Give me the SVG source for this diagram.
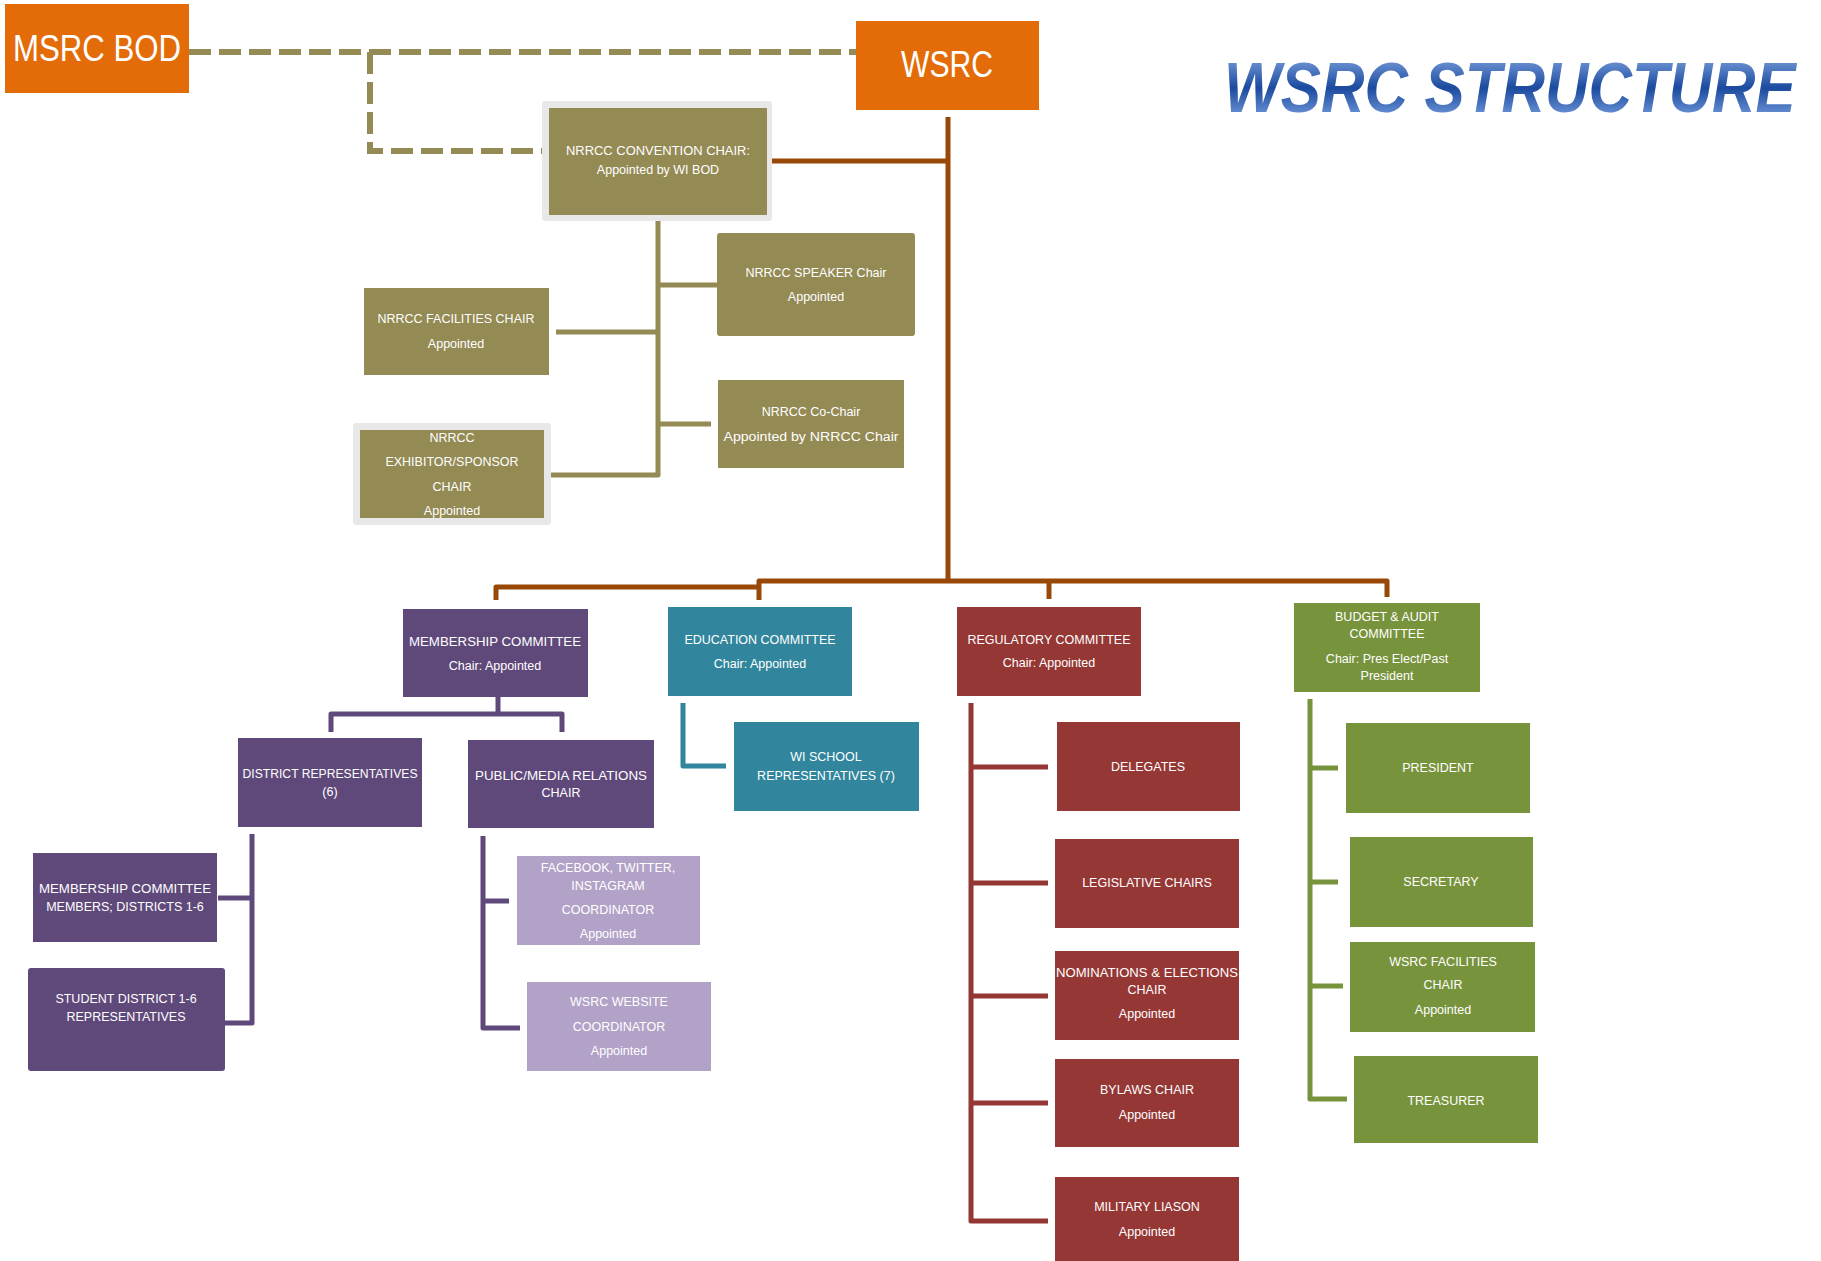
<svg xmlns="http://www.w3.org/2000/svg" width="1821" height="1261" viewBox="0 0 1821 1261">
<style>
.t{font-family:"Liberation Sans",Arial,sans-serif;font-size:12.5px;fill:#fff;text-anchor:middle}
.big{font-family:"Liberation Sans",Arial,sans-serif;fill:#fff;text-anchor:middle}
.or{fill:#E36C09}
.ol{fill:#948A54}
.pu{fill:#5F497A}
.lv{fill:#B2A2C7}
.te{fill:#31859C}
.re{fill:#953735}
.gr{fill:#77933C}
.frame{fill:#E8E8E8}
.c{fill:none;stroke-width:5;stroke-linejoin:round}
</style>
<defs>
<linearGradient id="tg" x1="0" y1="0" x2="0" y2="1">
<stop offset="0" stop-color="#8DB0E8"/>
<stop offset="0.5" stop-color="#1B4A9E"/>
<stop offset="1" stop-color="#8AB0EC"/>
</linearGradient>
</defs>
<rect width="1821" height="1261" fill="#fff"/>
<text transform="translate(1224,112) scale(0.86,1)" x="0" y="0" font-family="'Liberation Sans',Arial,sans-serif" font-weight="bold" font-style="italic" font-size="70" fill="url(#tg)">WSRC STRUCTURE</text>
<g id="connectors">
<path d="M189,52 H856 M370,52 V151 H549" fill="none" stroke="#948A54" stroke-width="6" stroke-dasharray="22 8"/>
<g stroke="#984807" class="c">
<path d="M948,117 V581"/>
<path d="M772,161 H948"/>
<path d="M496,600 V587 H759"/>
<path d="M759,600 V581 H1387 V597"/>
<path d="M1049,581 V599"/>
</g>
<g stroke="#948A54" class="c">
<path d="M658,221 V475 H551"/>
<path d="M658,285 H717"/>
<path d="M658,332 H556"/>
<path d="M658,424 H711"/>
</g>
<g stroke="#5F497A" class="c">
<path d="M498,697 V714"/>
<path d="M331,732 V714 H562 V732"/>
<path d="M252,834 V1023 H225"/>
<path d="M252,898 H218"/>
<path d="M483,836 V1028 H520"/>
<path d="M483,901 H509"/>
</g>
<path class="c" stroke="#31859C" d="M683,703 V766 H726"/>
<g stroke="#953735" class="c">
<path d="M971,703 V1221 H1048"/>
<path d="M971,767 H1048 M971,883 H1048 M971,996 H1048 M971,1103 H1048"/>
</g>
<g stroke="#77933C" class="c">
<path d="M1310,699 V1099 H1347"/>
<path d="M1310,768 H1338 M1310,882 H1338 M1310,986 H1343"/>
</g>
</g>
<g id="msrc-bod"><rect class="or" x="5" y="4" width="184" height="89"/><text class="big" x="97" y="61" font-size="36" textLength="168" lengthAdjust="spacingAndGlyphs">MSRC BOD</text></g>
<g id="wsrc"><rect class="or" x="856" y="21" width="183" height="89"/><text class="big" x="947" y="77" font-size="36" textLength="92" lengthAdjust="spacingAndGlyphs">WSRC</text></g>
<g id="convention-chair"><rect class="frame" x="542" y="101" width="230" height="120" rx="3"/><rect class="ol" x="549" y="108" width="218" height="107"/><text class="t" x="658" y="155" textLength="184" lengthAdjust="spacingAndGlyphs">NRRCC CONVENTION  CHAIR:</text><text class="t" x="658" y="174">Appointed by WI BOD</text></g>
<g id="speaker-chair"><rect class="ol" x="717" y="233" width="198" height="103" rx="3"/><text class="t" x="816" y="277">NRRCC SPEAKER  Chair</text><text class="t" x="816" y="301">Appointed</text></g>
<g id="facilities-chair"><rect class="ol" x="364" y="288" width="185" height="87"/><text class="t" x="456" y="323">NRRCC FACILITIES   CHAIR</text><text class="t" x="456" y="348">Appointed</text></g>
<g id="co-chair"><rect class="ol" x="718" y="380" width="186" height="88"/><text class="t" x="811" y="416">NRRCC  Co-Chair</text><text class="t" x="811" y="441" textLength="175" lengthAdjust="spacingAndGlyphs">Appointed  by NRRCC Chair</text></g>
<g id="exhibitor-chair"><rect class="frame" x="353" y="423" width="198" height="102" rx="3"/><rect class="ol" x="360" y="430" width="184" height="88"/><text class="t" x="452" y="442">NRRCC</text><text class="t" x="452" y="466">EXHIBITOR/SPONSOR</text><text class="t" x="452" y="491">CHAIR</text><text class="t" x="452" y="515">Appointed</text></g>
<g id="membership-committee"><rect class="pu" x="403" y="609" width="185" height="88"/><text class="t" x="495" y="646" textLength="172" lengthAdjust="spacingAndGlyphs">MEMBERSHIP COMMITTEE</text><text class="t" x="495" y="670">Chair:  Appointed</text></g>
<g id="education-committee"><rect class="te" x="668" y="607" width="184" height="89"/><text class="t" x="760" y="644">EDUCATION  COMMITTEE</text><text class="t" x="760" y="668">Chair:  Appointed</text></g>
<g id="regulatory-committee"><rect class="re" x="957" y="607" width="184" height="89"/><text class="t" x="1049" y="644">REGULATORY  COMMITTEE</text><text class="t" x="1049" y="667">Chair:   Appointed</text></g>
<g id="budget-committee"><rect class="gr" x="1294" y="603" width="186" height="89"/><text class="t" x="1387" y="621">BUDGET &amp; AUDIT</text><text class="t" x="1387" y="638">COMMITTEE</text><text class="t" x="1387" y="663">Chair:  Pres Elect/Past</text><text class="t" x="1387" y="680">President</text></g>
<g id="district-reps"><rect class="pu" x="238" y="738" width="184" height="89"/><text class="t" x="330" y="778" textLength="175" lengthAdjust="spacingAndGlyphs">DISTRICT  REPRESENTATIVES</text><text class="t" x="330" y="796">(6)</text></g>
<g id="public-media"><rect class="pu" x="468" y="740" width="186" height="88"/><text class="t" x="561" y="780" textLength="172" lengthAdjust="spacingAndGlyphs">PUBLIC/MEDIA  RELATIONS</text><text class="t" x="561" y="797">CHAIR</text></g>
<g id="membership-members"><rect class="pu" x="33" y="853" width="184" height="89"/><text class="t" x="125" y="893" textLength="172" lengthAdjust="spacingAndGlyphs">MEMBERSHIP COMMITTEE</text><text class="t" x="125" y="911">MEMBERS;  DISTRICTS  1-6</text></g>
<g id="student-reps"><rect class="pu" x="28" y="968" width="197" height="103" rx="3"/><text class="t" x="126" y="1003">STUDENT  DISTRICT  1-6</text><text class="t" x="126" y="1021">REPRESENTATIVES</text></g>
<g id="social-coordinator"><rect class="lv" x="517" y="856" width="183" height="89"/><text class="t" x="608" y="872">FACEBOOK,  TWITTER,</text><text class="t" x="608" y="890">INSTAGRAM</text><text class="t" x="608" y="914">COORDINATOR</text><text class="t" x="608" y="938">Appointed</text></g>
<g id="website-coordinator"><rect class="lv" x="527" y="982" width="184" height="89"/><text class="t" x="619" y="1006">WSRC WEBSITE</text><text class="t" x="619" y="1031">COORDINATOR</text><text class="t" x="619" y="1055">Appointed</text></g>
<g id="wi-school-reps"><rect class="te" x="734" y="722" width="185" height="89"/><text class="t" x="826" y="761">WI SCHOOL</text><text class="t" x="826" y="780">REPRESENTATIVES   (7)</text></g>
<g id="delegates"><rect class="re" x="1057" y="722" width="183" height="89"/><text class="t" x="1148" y="771">DELEGATES</text></g>
<g id="legislative-chairs"><rect class="re" x="1055" y="839" width="184" height="89"/><text class="t" x="1147" y="887">LEGISLATIVE  CHAIRS</text></g>
<g id="nominations-chair"><rect class="re" x="1055" y="951" width="184" height="89"/><text class="t" x="1147" y="977" textLength="182" lengthAdjust="spacingAndGlyphs">NOMINATIONS  &amp;  ELECTIONS</text><text class="t" x="1147" y="994">CHAIR</text><text class="t" x="1147" y="1018">Appointed</text></g>
<g id="bylaws-chair"><rect class="re" x="1055" y="1059" width="184" height="88"/><text class="t" x="1147" y="1094">BYLAWS  CHAIR</text><text class="t" x="1147" y="1119">Appointed</text></g>
<g id="military-liason"><rect class="re" x="1055" y="1177" width="184" height="90"/><text class="t" x="1147" y="1211">MILITARY  LIASON</text><text class="t" x="1147" y="1236">Appointed</text></g>
<g id="president"><rect class="gr" x="1346" y="723" width="184" height="90"/><text class="t" x="1438" y="772">PRESIDENT</text></g>
<g id="secretary"><rect class="gr" x="1350" y="837" width="183" height="90"/><text class="t" x="1441" y="886">SECRETARY</text></g>
<g id="wsrc-facilities"><rect class="gr" x="1350" y="942" width="185" height="90"/><text class="t" x="1443" y="966">WSRC FACILITIES</text><text class="t" x="1443" y="989">CHAIR</text><text class="t" x="1443" y="1014">Appointed</text></g>
<g id="treasurer"><rect class="gr" x="1354" y="1056" width="184" height="87"/><text class="t" x="1446" y="1105">TREASURER</text></g>
</svg>
